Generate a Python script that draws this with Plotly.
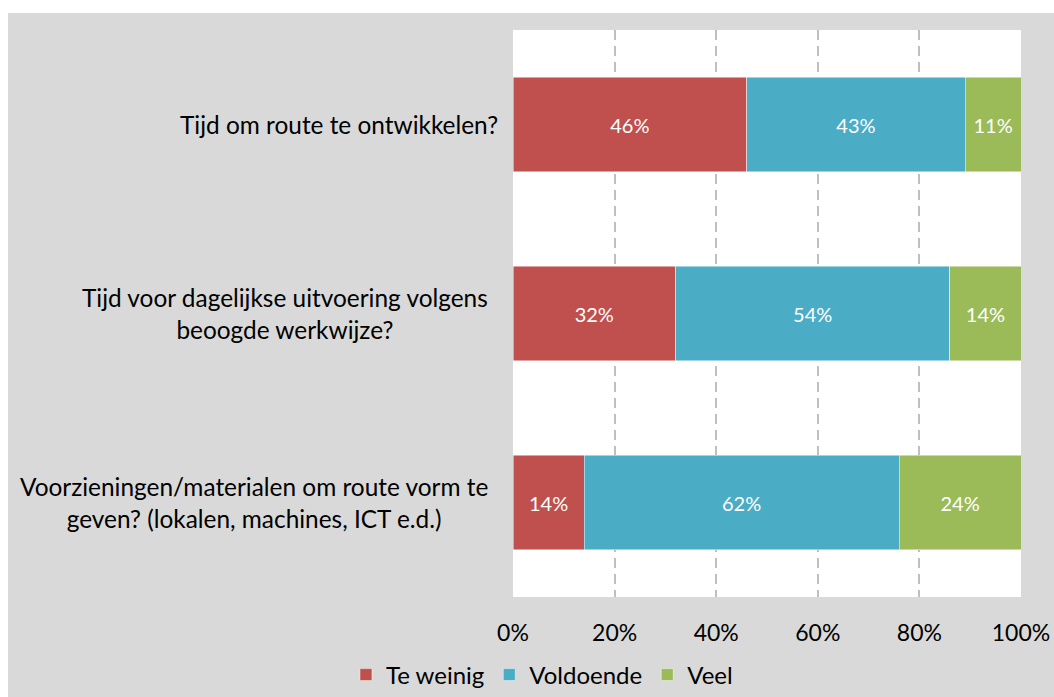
import plotly.graph_objects as go

# Survey questions (top to bottom) and answer shares in percent
questions = [
    "Tijd om route te ontwikkelen?",
    "Tijd voor dagelijkse uitvoering volgens<br>beoogde werkwijze?",
    "Voorzieningen/materialen om route vorm te<br>geven? (lokalen, machines, ICT e.d.)",
]
te_weinig = [46, 32, 14]
voldoende = [43, 54, 62]
veel = [11, 14, 24]

series_names = ["Te weinig", "Voldoende", "Veel"]
series_colors = ["#C0504D", "#4BACC6", "#9BBB59"]
tick_values = [0, 20, 40, 60, 80, 100]
tick_labels = ["0%", "20%", "40%", "60%", "80%", "100%"]

FONT = "Lato"
cat_ids = [0, 1, 2]
label_shift = [-13, -23, -23]

fig = go.Figure()
for name, vals, color in zip(series_names, [te_weinig, voldoende, veel], series_colors):
    fig.add_trace(go.Bar(
        name=name,
        y=cat_ids,
        x=vals,
        orientation="h",
        marker=dict(color=color, line=dict(color="rgba(255,255,255,0.6)", width=0.8)),
        text=[f"{v}%" for v in vals],
        textposition="inside",
        insidetextanchor="middle",
        textfont=dict(family=FONT, size=20, color="white"),
        constraintext="none",
        hoverinfo="skip",
    ))

# Question labels, right-aligned against the axis with centred lines
for i, q in enumerate(questions):
    fig.add_annotation(
        x=0, xref="paper", y=i, yref="y",
        text=q, showarrow=False,
        xanchor="right", yanchor="middle", align="center",
        xshift=label_shift[i],
        font=dict(family=FONT, size=24.4, color="#000000"),
    )

# Outer frame: grey chart area with a thin white border strip at top and left
fig.add_shape(type="rect", xref="paper", yref="paper",
              x0=-1.02, x1=1.08, y0=1.0300, y1=1.06,
              fillcolor="white", line=dict(width=0), layer="below")
fig.add_shape(type="rect", xref="paper", yref="paper",
              x0=-1.02, x1=-0.9941, y0=-0.2, y1=1.06,
              fillcolor="white", line=dict(width=0), layer="below")

fig.update_layout(
    width=1054, height=697,
    margin=dict(l=513, r=33, t=30, b=100, pad=0, autoexpand=False),
    paper_bgcolor="#d9d9d9",
    plot_bgcolor="white",
    barmode="stack",
    bargap=0.5,
    font=dict(family=FONT, size=20, color="#000000"),
    showlegend=True,
    legend=dict(
        orientation="h",
        x=0.057, xanchor="center",
        y=-0.1376, yanchor="middle",
        font=dict(family=FONT, size=24, color="#000000"),
        bgcolor="rgba(0,0,0,0)",
        itemwidth=30,
        itemclick=False, itemdoubleclick=False,
        traceorder="normal",
    ),
    xaxis=dict(
        range=[0, 100],
        tickvals=tick_values,
        ticktext=tick_labels,
        showgrid=True,
        gridcolor="#bfbfbf",
        gridwidth=1.5,
        griddash="10px,6px",
        zeroline=False,
        showline=False,
        ticks="",
        ticklabelstandoff=20,
        tickfont=dict(family=FONT, size=23, color="#000000"),
        fixedrange=True,
    ),
    yaxis=dict(
        tickvals=cat_ids,
        showticklabels=False,
        range=[2.5, -0.5],
        showgrid=False,
        zeroline=False,
        showline=False,
        ticks="",
        fixedrange=True,
    ),
)

fig.write_html("out.html")
